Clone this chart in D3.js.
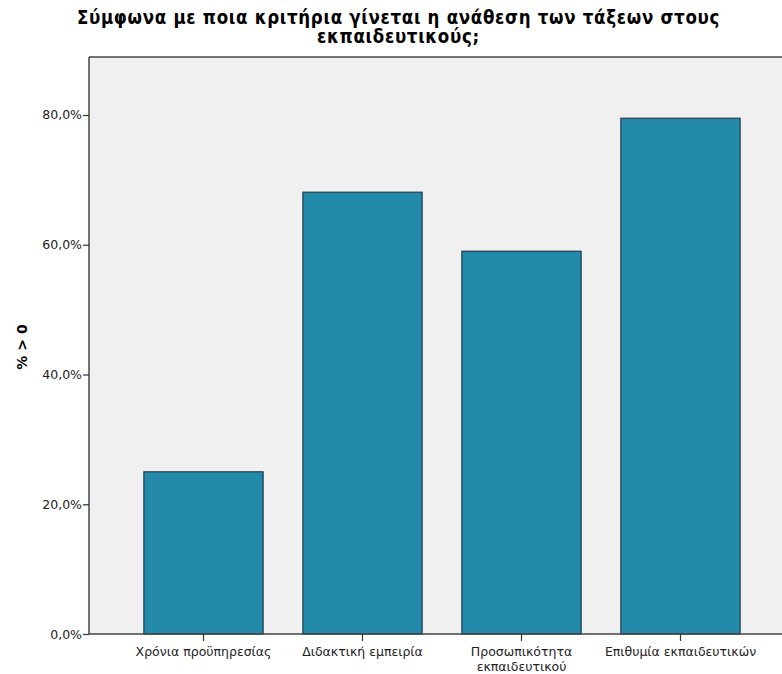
<!DOCTYPE html>
<html><head><meta charset="utf-8">
<script src="https://cdn.jsdelivr.net/npm/d3@7"></script>
<style>body{margin:0;background:#fff}svg{display:block}</style>
</head><body>
<svg id="c" width="782" height="674"></svg>
<script>
const categories = [["Χρόνια προϋπηρεσίας"], ["Διδακτική εμπειρία"], ["Προσωπικότητα", "εκπαιδευτικού"], ["Επιθυμία εκπαιδευτικών"]];
const values = [25.0, 68.1, 59.0, 79.5];
const yTicks = [0, 20, 40, 60, 80];
const titleLines = ["Σύμφωνα με ποια κριτήρια γίνεται η ανάθεση των τάξεων στους", "εκπαιδευτικούς;"];
const yLabel = "% > 0";

const FONT = "'DejaVu Sans', Verdana, sans-serif";
const TFONT = "'DejaVu Sans Condensed', 'DejaVu Sans', sans-serif";
const svg = d3.select("#c");
const L = 89, T = 57, R = 782, B = 634;
const x = d3.scaleBand().domain(d3.range(categories.length)).range([124, 760]).paddingInner(0.25).paddingOuter(0.125);
const y = d3.scaleLinear().domain([0, 88.94]).range([B, T]);

svg.append("rect").attr("x", L).attr("y", T).attr("width", R - L).attr("height", B - T).attr("fill", "#f0f0f0");

svg.selectAll("rect.bar").data(values).join("rect").attr("class", "bar")
  .attr("x", (d, i) => x(i)).attr("width", x.bandwidth())
  .attr("y", d => y(d)).attr("height", d => B - y(d))
  .attr("fill", "#248aab").attr("stroke", "#1e3d48").attr("stroke-width", 1.2);

// frame lines
svg.append("line").attr("x1", L).attr("x2", R).attr("y1", T).attr("y2", T).attr("stroke", "#444").attr("stroke-width", 1.5);
svg.append("line").attr("x1", L).attr("x2", L).attr("y1", T).attr("y2", B).attr("stroke", "#444").attr("stroke-width", 1.5);
svg.append("line").attr("x1", L).attr("x2", R).attr("y1", B).attr("y2", B).attr("stroke", "#444").attr("stroke-width", 1.5);

// y axis
const fmt = d => d.toFixed(1).replace(".", ",") + "%";
const ya = svg.append("g").attr("transform", `translate(${L},0)`)
  .call(d3.axisLeft(y).tickValues(yTicks).tickFormat(fmt).tickSize(6).tickPadding(1));
ya.select(".domain").remove();
ya.selectAll("line").attr("stroke", "#333").attr("stroke-width", 1.2);
ya.selectAll("text").attr("fill", "#222").style("font", `12.5px ${FONT}`);

// x axis
const xa = svg.append("g").attr("transform", `translate(0,${B})`)
  .call(d3.axisBottom(x).tickSize(7).tickFormat(""));
xa.select(".domain").remove();
xa.selectAll("line").attr("stroke", "#333").attr("stroke-width", 1.2);
xa.selectAll(".tick").each(function(d) {
  const t = d3.select(this).append("text").attr("fill", "#222").attr("text-anchor", "middle")
    .style("font", `12.5px ${FONT}`);
  categories[d].forEach((s, k) => t.append("tspan").attr("x", 0).attr("y", 22 + k * 14.5).text(s));
});

// title, spaced to the reference width
const tt = svg.append("text").attr("text-anchor", "middle").attr("fill", "#000")
  .style("font", `bold 18.5px ${TFONT}`);
const spans = titleLines.map((s, k) => tt.append("tspan").attr("x", 398.5).attr("y", 24 + k * 19).text(s));
const w = spans[0].node().getComputedTextLength();
const ls = Math.max(0, Math.min(1.2, (643 - w) / titleLines[0].length));
tt.style("letter-spacing", ls.toFixed(2) + "px");

// y label
svg.append("text").attr("transform", `translate(27,347) rotate(-90)`)
  .attr("text-anchor", "middle").attr("fill", "#000")
  .style("font", `bold 14px ${FONT}`).text(yLabel);
</script>
</body></html>
